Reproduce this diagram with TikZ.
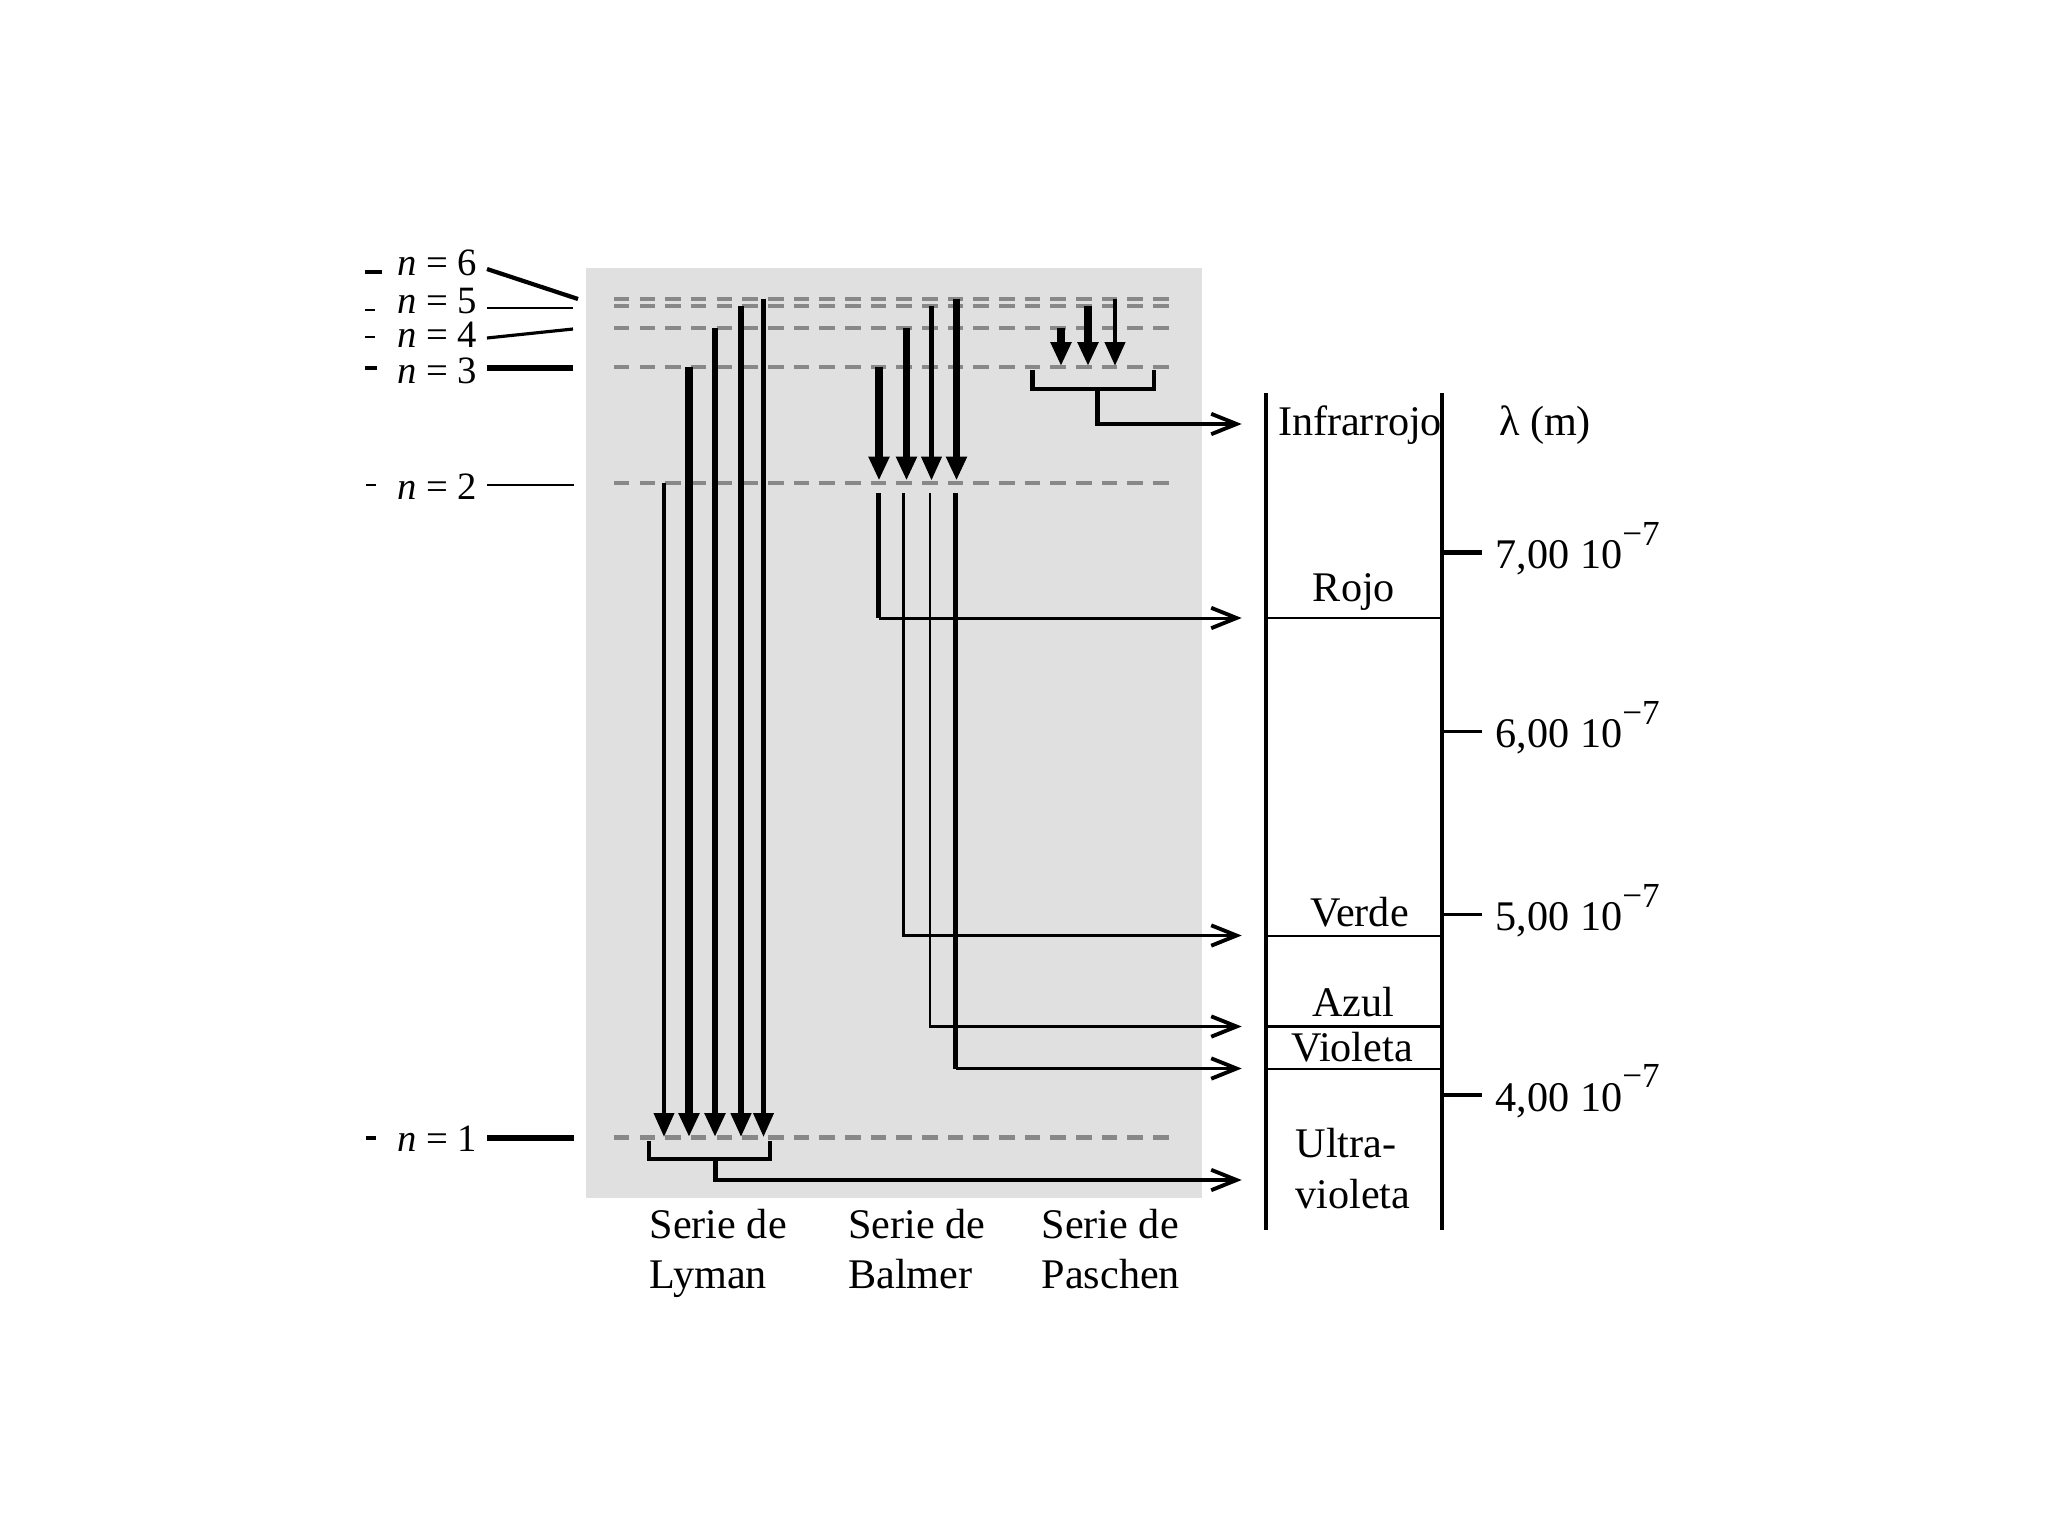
\documentclass[tikz,border=0pt]{standalone}
\usepackage{fontspec}
\setmainfont{Liberation Serif}
\usetikzlibrary{arrows.meta}
\definecolor{boxgray}{RGB}{224,224,224}
\definecolor{levelgray}{RGB}{136,136,136}
\begin{document}
\begin{tikzpicture}[x=0.01cm,y=-0.01cm,
  lvl/.style={draw=levelgray, line width=1.25pt, dash pattern=on 4.4pt off 2.9pt},
  trans/.style={-{Triangle[length=6.8pt,width=5.6pt]}},
  emit/.style={-{Straight Barb[length=7.2pt,width=5.8pt,line width=1.1pt]}},
  lab/.style={font=\fontsize{12}{14}\selectfont, inner sep=0pt},
  nlab/.style={font=\fontsize{11}{12}\selectfont, inner sep=0pt, anchor=east},
]
\useasboundingbox[fill=white] (0,0) rectangle (2048,1536);
\fill[boxgray] (586,268) rectangle (1202,1198);

% energy levels
\foreach \nm/\y/\w in {6/298.7/1.25, 5/306/1.3, 4/328/1.3, 3/367/0.9, 2/482.7/1.15, 1/1137.7/1.3}{
  \coordinate (lev\nm w) at (614,\y);
  \coordinate (lev\nm e) at (1173,\y);
  \draw[lvl, line width=\w pt] (lev\nm w) -- (lev\nm e);
}

% left labels
\node[nlab] (ln6) at (478,262.5) {\textit{n} = 6};
\node[nlab] (ln5) at (478,301) {\textit{n} = 5};
\node[nlab] (ln4) at (478,335) {\textit{n} = 4};
\node[nlab] (ln3) at (478,371) {\textit{n} = 3};
\node[nlab] (ln2) at (478,487) {\textit{n} = 2};
\node[nlab] (ln1) at (478,1139) {\textit{n} = 1};

% connecting lines from labels to the box
\draw[line width=1.2pt] (487,269) -- (578,299);
\draw[line width=0.6pt] (487,308) -- (573,308);
\draw[line width=0.9pt] (487,338) -- (573,329);
\draw[line width=1.5pt] (487,368) -- (573,368);
\draw[line width=0.6pt] (487,485) -- (574,485);
\draw[line width=1.5pt] (487,1138) -- (574,1138);

% small left dashes
\draw[line width=1.3pt] (365,272) -- (382,272);
\draw[line width=0.6pt] (365,310) -- (375,310);
\draw[line width=0.6pt] (365,337) -- (375,337);
\draw[line width=1.3pt] (365,368) -- (377,368);
\draw[line width=0.6pt] (366,485) -- (376,485);
\draw[line width=1.1pt] (366,1138) -- (376,1138);

% Lyman series
\foreach \x/\y/\w [count=\i] in {664/482.7/1.3, 689/367/2.0, 715/328/1.9, 741/306/1.5, 763.5/298.7/1.3}{
  \coordinate (ly\i a) at (\x,\y);
  \coordinate (ly\i b) at (\x,1137);
  \draw[trans, line width=\w pt] (ly\i a) -- (ly\i b);
}
% Balmer series
\foreach \x/\y/\w [count=\i] in {879/367/2.0, 906.5/328/2.2, 931.5/306/1.4, 956.5/298.7/2.2}{
  \coordinate (ba\i a) at (\x,\y);
  \coordinate (ba\i b) at (\x,480.5);
  \draw[trans, line width=\w pt] (ba\i a) -- (ba\i b);
}
% Paschen series
\foreach \x/\y/\w [count=\i] in {1061/328/2.2, 1088/306/2.2, 1115/298.7/1.4}{
  \coordinate (pa\i a) at (\x,\y);
  \coordinate (pa\i b) at (\x,366);
  \draw[trans, line width=\w pt] (pa\i a) -- (pa\i b);
}

% spectrum arrow tips
\coordinate (tipIR) at (1241.7,424);
\coordinate (tipR) at (1241.7,618);
\coordinate (tipV) at (1241.7,935.5);
\coordinate (tipA) at (1241.7,1026.5);
\coordinate (tipVi) at (1241.7,1068.5);
\coordinate (tipUV) at (1241.7,1180);

% Balmer lines down to the spectrum
\coordinate (bR) at (878.5,493);
\coordinate (bRc) at (878.5,618);
\draw[line width=1.35pt] (bR) -- (bRc);
\draw[emit, line width=0.85pt] (bRc) -- (tipR);
\coordinate (bV) at (903.3,493);
\draw[emit, line width=0.7pt] (bV) |- (tipV);
\coordinate (bA) at (930,493);
\draw[emit, line width=0.7pt] (bA) |- (tipA);
\coordinate (bVi) at (955.7,493);
\coordinate (bVic) at (955.7,1068.5);
\draw[line width=1.4pt] (bVi) -- (bVic);
\draw[emit, line width=0.8pt] (bVic) -- (tipVi);

% Paschen bracket
\coordinate (pbl) at (1032.3,370);
\coordinate (pbr) at (1154,370);
\coordinate (pbs) at (1097.3,389);
\draw[line width=1.4pt] (pbl) |- (1154,389) -- (pbr);
\draw[emit, line width=1.3pt] (pbs) |- (tipIR);

% Lyman bracket
\coordinate (lbl) at (649.3,1141);
\coordinate (lbr) at (770,1141);
\coordinate (lbs) at (715.7,1159);
\draw[line width=1.2pt] (lbl) |- (770,1159) -- (lbr);
\draw[emit, line width=1.4pt] (lbs) |- (tipUV);

% spectrum labels
\node[lab, anchor=base] (tIR) at (1360,435) {Infrarrojo};
\node[lab, anchor=base] (tlam) at (1545,435) {λ (m)};
\node[lab, anchor=base] (tR) at (1354,601.7) {Rojo};
\node[lab, anchor=base] (tV) at (1359.5,926) {Verde};
\node[lab, anchor=base] (tA) at (1353.5,1016) {Azul};
\node[lab, anchor=base] (tVi) at (1352,1061) {Violeta};
\node[lab, anchor=base] (tU1) at (1346,1157.3) {Ultra-};
\node[lab, anchor=base] (tU2) at (1353,1208.3) {violeta};

% spectrum bars
\coordinate (sL1) at (1266,393);
\coordinate (sL2) at (1266,1230);
\coordinate (sR1) at (1442,393);
\coordinate (sR2) at (1442,1230);
\draw[line width=1.4pt] (sL1) -- (sL2);
\draw[line width=1.4pt] (sR1) -- (sR2);
\foreach \y in {618,936,1026.5,1069}{
  \draw[line width=0.7pt] (1266,\y) -- (1442,\y);
}

% wavelength ticks
\foreach \v/\y/\w in {7/552.3/1.4, 6/731.7/0.75, 5/914.3/0.75, 4/1095/1.4}{
  \coordinate (tk\v) at (1442,\y);
  \draw[line width=\w pt] (tk\v) -- ++(40,0);
  \node[lab, anchor=base west] (tl\v) at (1495,\y+16) {\v,00 10\raisebox{0.55em}{\fontsize{10}{12}\selectfont −7}};
}

% series labels
\node[lab, anchor=base west] (sl1) at (649,1238) {Serie de};
\node[lab, anchor=base west] (sl2) at (649,1288) {Lyman};
\node[lab, anchor=base west] (sb1) at (847.6,1238) {Serie de};
\node[lab, anchor=base west] (sb2) at (847.6,1288) {Balmer};
\node[lab, anchor=base west] (sp1) at (1041,1238) {Serie de};
\node[lab, anchor=base west] (sp2) at (1041,1288) {Paschen};
\end{tikzpicture}
\end{document}
